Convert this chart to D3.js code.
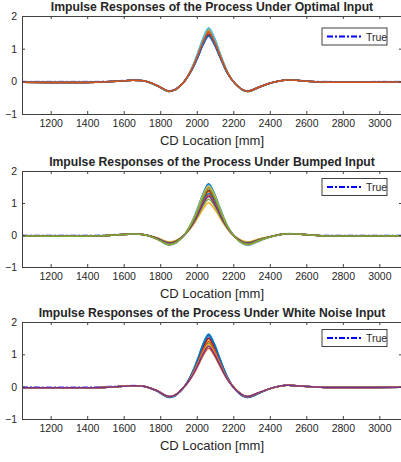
<!DOCTYPE html>
<html>
<head>
<meta charset="utf-8">
<script src="https://cdn.jsdelivr.net/npm/d3@7"></script>
<style>
  body { margin: 0; background: #fff; }
  text { font-family: "Liberation Sans", Arial, sans-serif; fill: #262626; }
</style>
</head>
<body>
<div id="chart"></div>
<script>
var cdLocation = [1043, 1450, 1560, 1650, 1720, 1780, 1845, 1880, 1910, 1935, 1960, 1985, 2010, 2035,
                  2065, 2095, 2120, 2145, 2170, 2195, 2225, 2255, 2285, 2350, 2420, 2490, 2570, 2680, 3124];

var trueResponse = [0, 0, 0.02, 0.04, 0.01, -0.12, -0.30, -0.26, -0.13, 0.02, 0.24, 0.52, 0.86, 1.22,
                    1.50, 1.24, 0.90, 0.55, 0.25, 0.03, -0.15, -0.27, -0.30, -0.16, -0.02, 0.05, 0.03, 0, 0];

var optimalRuns = [
  [-0.03,-0.03,0,0.03,0,-0.13,-0.30,-0.26,-0.13,0.02,0.23,0.49,0.81,1.16,1.42,1.17,0.85,0.52,0.24,0.03,-0.15,-0.27,-0.30,-0.16,-0.03,0.04,0.02,-0.02,-0.02],
  [-0.03,-0.03,0,0.03,0,-0.13,-0.31,-0.27,-0.13,0.02,0.25,0.54,0.89,1.26,1.55,1.28,0.93,0.57,0.26,0.03,-0.15,-0.28,-0.31,-0.16,-0.03,0.04,0.02,-0.02,-0.02],
  [-0.03,-0.03,0,0.03,0,-0.13,-0.31,-0.27,-0.13,0.02,0.26,0.55,0.92,1.30,1.60,1.32,0.96,0.59,0.27,0.03,-0.15,-0.28,-0.31,-0.17,-0.03,0.04,0.02,-0.02,-0.02],
  [-0.03,-0.03,0,0.03,0,-0.12,-0.29,-0.25,-0.13,0.02,0.22,0.48,0.79,1.12,1.38,1.14,0.83,0.51,0.23,0.03,-0.15,-0.26,-0.29,-0.15,-0.03,0.04,0.02,-0.02,-0.02],
  [-0.03,-0.03,0,0.03,0,-0.13,-0.31,-0.27,-0.13,0.02,0.26,0.56,0.93,1.32,1.62,1.34,0.97,0.59,0.27,0.03,-0.15,-0.28,-0.31,-0.17,-0.03,0.04,0.02,-0.02,-0.02],
  [-0.03,-0.03,0,0.03,0,-0.13,-0.31,-0.27,-0.13,0.02,0.26,0.57,0.94,1.33,1.64,1.36,0.98,0.60,0.27,0.03,-0.15,-0.28,-0.31,-0.17,-0.03,0.04,0.02,-0.02,-0.02],
  [-0.03,-0.03,0,0.03,0,-0.12,-0.30,-0.26,-0.13,0.02,0.23,0.50,0.83,1.18,1.45,1.20,0.87,0.53,0.24,0.03,-0.15,-0.27,-0.30,-0.16,-0.03,0.04,0.02,-0.02,-0.02],
  [-0.03,-0.03,0,0.03,0,-0.12,-0.30,-0.26,-0.13,0.02,0.22,0.48,0.80,1.14,1.40,1.16,0.84,0.51,0.23,0.03,-0.15,-0.27,-0.30,-0.16,-0.03,0.04,0.02,-0.02,-0.02],
  [-0.03,-0.03,0,0.03,0,-0.12,-0.30,-0.26,-0.13,0.02,0.24,0.52,0.86,1.22,1.50,1.24,0.90,0.55,0.25,0.03,-0.15,-0.27,-0.30,-0.16,-0.03,0.04,0.02,-0.02,-0.02]
];

var bumpedRuns = [
  [-0.03,-0.03,0,0.03,0,-0.12,-0.31,-0.27,-0.13,0.02,0.26,0.55,0.92,1.30,1.60,1.32,0.96,0.59,0.27,0.03,-0.15,-0.28,-0.31,-0.17,-0.03,0.04,0.02,-0.02,-0.02],
  [-0.03,-0.03,0,0.03,0,-0.11,-0.27,-0.23,-0.12,0.02,0.22,0.47,0.78,1.11,1.36,1.12,0.82,0.50,0.23,0.03,-0.14,-0.24,-0.27,-0.14,-0.03,0.04,0.02,-0.02,-0.02],
  [-0.03,-0.03,0,0.03,0,-0.08,-0.21,-0.18,-0.09,0.01,0.16,0.35,0.58,0.82,1.01,0.83,0.61,0.37,0.17,0.02,-0.10,-0.19,-0.21,-0.11,-0.03,0.04,0.02,-0.02,-0.02],
  [-0.03,-0.03,0,0.03,0,-0.12,-0.29,-0.25,-0.13,0.02,0.24,0.51,0.84,1.20,1.47,1.22,0.88,0.54,0.25,0.03,-0.15,-0.26,-0.29,-0.15,-0.03,0.04,0.02,-0.02,-0.02],
  [-0.03,-0.03,0,0.03,0,-0.09,-0.23,-0.20,-0.10,0.01,0.18,0.39,0.64,0.91,1.12,0.93,0.67,0.41,0.19,0.02,-0.12,-0.21,-0.23,-0.12,-0.03,0.04,0.02,-0.02,-0.02],
  [-0.03,-0.03,0,0.03,0,-0.12,-0.30,-0.26,-0.13,0.02,0.25,0.54,0.89,1.26,1.55,1.28,0.93,0.57,0.26,0.03,-0.15,-0.27,-0.30,-0.16,-0.03,0.04,0.02,-0.02,-0.02],
  [-0.03,-0.03,0,0.03,0,-0.11,-0.28,-0.24,-0.12,0.02,0.22,0.49,0.80,1.14,1.40,1.16,0.84,0.51,0.23,0.03,-0.14,-0.25,-0.28,-0.15,-0.03,0.04,0.02,-0.02,-0.02],
  [-0.03,-0.03,0,0.03,0,-0.10,-0.26,-0.23,-0.11,0.02,0.21,0.45,0.75,1.06,1.30,1.07,0.78,0.48,0.22,0.03,-0.13,-0.23,-0.26,-0.14,-0.03,0.04,0.02,-0.02,-0.02],
  [-0.03,-0.03,0,0.03,0,-0.10,-0.25,-0.22,-0.11,0.02,0.20,0.43,0.72,1.02,1.25,1.03,0.75,0.46,0.21,0.02,-0.13,-0.23,-0.25,-0.13,-0.03,0.04,0.02,-0.02,-0.02],
  [-0.03,-0.03,0,0.03,0,-0.12,-0.30,-0.26,-0.13,0.02,0.24,0.53,0.87,1.24,1.52,1.26,0.91,0.56,0.25,0.03,-0.15,-0.27,-0.30,-0.16,-0.03,0.04,0.02,-0.02,-0.02],
  [-0.03,-0.03,0,0.03,0,-0.10,-0.25,-0.22,-0.11,0.02,0.19,0.42,0.69,0.98,1.20,0.99,0.72,0.44,0.20,0.02,-0.13,-0.23,-0.25,-0.13,-0.03,0.04,0.02,-0.02,-0.02],
  [-0.03,-0.03,0,0.03,0,-0.12,-0.29,-0.25,-0.13,0.02,0.23,0.50,0.83,1.18,1.45,1.20,0.87,0.53,0.24,0.03,-0.15,-0.26,-0.29,-0.15,-0.03,0.04,0.02,-0.02,-0.02]
];

var whiteNoiseRuns = [
  [-0.03,-0.03,0,0.03,0,-0.13,-0.33,-0.29,-0.14,0.02,0.26,0.57,0.93,1.33,1.63,1.35,0.98,0.60,0.27,0.03,-0.17,-0.30,-0.33,-0.18,-0.03,0.04,0.02,-0.02,-0.02],
  [-0.03,-0.03,0,0.03,0,-0.12,-0.30,-0.26,-0.13,0.02,0.19,0.41,0.68,0.97,1.19,0.98,0.71,0.44,0.20,0.02,-0.15,-0.27,-0.30,-0.16,-0.03,0.04,0.02,-0.02,-0.02],
  [-0.03,-0.03,0,0.03,0,-0.12,-0.31,-0.27,-0.13,0.02,0.23,0.50,0.83,1.18,1.45,1.20,0.87,0.53,0.24,0.03,-0.15,-0.28,-0.31,-0.17,-0.03,0.04,0.02,-0.02,-0.02],
  [-0.03,-0.03,0,0.03,0,-0.13,-0.32,-0.28,-0.14,0.02,0.25,0.54,0.89,1.26,1.55,1.28,0.93,0.57,0.26,0.03,-0.16,-0.29,-0.32,-0.17,-0.03,0.04,0.02,-0.02,-0.02],
  [-0.03,-0.03,0,0.03,0,-0.12,-0.30,-0.26,-0.13,0.02,0.22,0.47,0.77,1.10,1.35,1.12,0.81,0.50,0.23,0.03,-0.15,-0.27,-0.30,-0.16,-0.03,0.04,0.02,-0.02,-0.02],
  [-0.03,-0.03,0,0.03,0,-0.13,-0.32,-0.28,-0.14,0.02,0.25,0.55,0.91,1.28,1.58,1.31,0.95,0.58,0.26,0.03,-0.16,-0.29,-0.32,-0.17,-0.03,0.04,0.02,-0.02,-0.02],
  [-0.03,-0.03,0,0.03,0,-0.12,-0.31,-0.27,-0.13,0.02,0.24,0.52,0.86,1.22,1.50,1.24,0.90,0.55,0.25,0.03,-0.15,-0.28,-0.31,-0.17,-0.03,0.04,0.02,-0.02,-0.02],
  [-0.03,-0.03,0,0.03,0,-0.13,-0.33,-0.29,-0.14,0.02,0.26,0.55,0.92,1.30,1.60,1.32,0.96,0.59,0.27,0.03,-0.17,-0.30,-0.33,-0.18,-0.03,0.04,0.02,-0.02,-0.02],
  [-0.03,-0.03,0,0.03,0,-0.12,-0.31,-0.27,-0.13,0.02,0.22,0.49,0.80,1.14,1.40,1.16,0.84,0.51,0.23,0.03,-0.15,-0.28,-0.31,-0.17,-0.03,0.04,0.02,-0.02,-0.02],
  [-0.03,-0.03,0,0.03,0,-0.12,-0.30,-0.26,-0.13,0.02,0.21,0.45,0.75,1.06,1.30,1.07,0.78,0.48,0.22,0.03,-0.15,-0.27,-0.30,-0.16,-0.03,0.04,0.02,-0.02,-0.02],
  [-0.03,-0.03,0,0.03,0,-0.12,-0.30,-0.26,-0.13,0.02,0.20,0.43,0.72,1.02,1.25,1.03,0.75,0.46,0.21,0.02,-0.15,-0.27,-0.30,-0.16,-0.03,0.04,0.02,-0.02,-0.02]
];

var panelTitles = ["Impulse Responses of the Process Under Optimal Input",
                   "Impulse Responses of the Process Under Bumped Input",
                   "Impulse Responses of the Process Under White Noise Input"];
var xTicks = [1200, 1400, 1600, 1800, 2000, 2200, 2400, 2600, 2800, 3000];
var yTicks = [-1, 0, 1, 2];
var xLabel = "CD Location [mm]";
var legendLabel = "True";

var colours = ["#0072BD", "#D95319", "#EDB120", "#7E2F8E", "#77AC30", "#4DBEEE", "#A2142F"];

var width = 401, height = 462;
var svg = d3.select("#chart").append("svg")
    .attr("width", width)
    .attr("height", height);

var panels = [
  { top: 16, bottom: 114, runs: optimalRuns, legendY: 36.5 },
  { top: 171, bottom: 267, runs: bumpedRuns, legendY: 187 },
  { top: 322, bottom: 419, runs: whiteNoiseRuns, legendY: 338 }
];

var left = 22, right = 402;

function drawPanel(p, i) {
  var xScale = d3.scaleLinear().domain([1043, 3124]).range([left, right]);
  var yScale = d3.scaleLinear().domain([-1, 2]).range([p.bottom, p.top]);
  var g = svg.append("g");

  var clipId = "clip" + i;
  g.append("clipPath").attr("id", clipId)
    .append("rect")
      .attr("x", left).attr("y", p.top)
      .attr("width", right - left).attr("height", p.bottom - p.top);

  var line = d3.line()
      .x(function(d, j) { return xScale(cdLocation[j]); })
      .y(function(d) { return yScale(d); })
      .curve(d3.curveCatmullRom.alpha(0.5));

  var plot = g.append("g").attr("clip-path", "url(#" + clipId + ")");

  // true response goes under the estimates
  plot.append("path")
    .datum(trueResponse)
    .attr("fill", "none")
    .attr("stroke", "#0000ff")
    .attr("stroke-opacity", 0.5)
    .attr("stroke-width", 1.2)
    .attr("stroke-dasharray", "6,2,2,2")
    .attr("d", line);

  plot.selectAll(".run")
    .data(p.runs)
    .enter().append("path")
      .attr("class", "run")
      .attr("fill", "none")
      .attr("stroke", function(d, j) { return colours[j % colours.length]; })
      .attr("stroke-width", 1.5)
      .attr("d", line);

  // axes box + inward ticks like matlab
  var axisColour = "#404040";
  var fmt = d3.format("d");
  var xAxisB = d3.axisBottom(xScale).tickValues(xTicks).tickSizeInner(-3).tickSizeOuter(0).tickPadding(6).tickFormat(fmt);
  var xAxisT = d3.axisTop(xScale).tickValues(xTicks).tickSizeInner(-3).tickSizeOuter(0).tickFormat("");
  var yAxisL = d3.axisLeft(yScale).tickValues(yTicks).tickSizeInner(-3).tickSizeOuter(0).tickPadding(5).tickFormat(fmt);
  var yAxisR = d3.axisRight(yScale).tickValues(yTicks).tickSizeInner(-3).tickSizeOuter(0).tickFormat("");

  var gx = g.append("g").attr("transform", "translate(0," + p.bottom + ")").call(xAxisB);
  g.append("g").attr("transform", "translate(0," + p.top + ")").call(xAxisT);
  var gy = g.append("g").attr("transform", "translate(" + left + ",0)").call(yAxisL);
  g.append("g").attr("transform", "translate(" + right + ",0)").call(yAxisR);

  g.selectAll(".domain, .tick line").attr("stroke", axisColour);
  gx.selectAll("text").style("font-size", "10.5px").attr("fill", "#262626");
  gy.selectAll("text").style("font-size", "10.5px").attr("fill", "#262626");

  g.append("text")
    .attr("x", (left + right) / 2)
    .attr("y", p.top - 5)
    .style("font-size", "12.2px")
    .style("font-weight", "bold")
    .style("text-anchor", "middle")
    .text(panelTitles[i]);

  g.append("text")
    .attr("x", (left + right) / 2)
    .attr("y", p.bottom + 30.5)
    .style("font-size", "13px")
    .style("text-anchor", "middle")
    .text(xLabel);

  // legend
  var lg = g.append("g").attr("transform", "translate(322," + (p.legendY - 8.5) + ")");
  lg.append("rect")
    .attr("width", 65).attr("height", 17)
    .attr("fill", "#fff")
    .attr("stroke", "#404040")
    .attr("stroke-width", 1);
  lg.append("line")
    .attr("x1", 5).attr("x2", 41)
    .attr("y1", 8.5).attr("y2", 8.5)
    .attr("stroke", "#0000ff")
    .attr("stroke-width", 2)
    .attr("stroke-dasharray", "6,2,2,2");
  lg.append("text")
    .attr("x", 44).attr("y", 12.5)
    .style("font-size", "10.5px")
    .text(legendLabel);
}

panels.forEach(drawPanel);
</script>
</body>
</html>
